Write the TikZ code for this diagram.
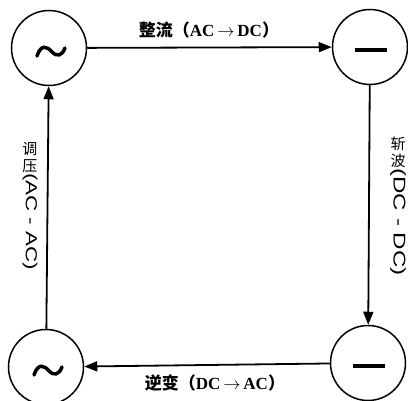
\documentclass[tikz,border=0pt]{standalone}
\usepackage{fontspec}
\setmainfont{Liberation Serif}
\newfontfamily\cjk{Noto Sans CJK SC}
\newfontfamily\lsans{Liberation Sans}
\usetikzlibrary{arrows.meta}
\begin{document}
\begin{tikzpicture}[x=1pt,y=-1pt,
  conv/.style={circle, draw, line width=1.5pt, minimum size=75pt, inner sep=0pt},
  symline/.style={line width=3.5pt, line cap=round},
  acsym/.style={conv, path picture={
     \begin{scope}[shift={(path picture bounding box.center)}]
       \draw[symline] (-12,8) .. controls (-8,-4) and (-2,-2) .. (3,4) .. controls (8,9) and (13,8) .. (16,0);
     \end{scope}}},
  dcsym/.style={conv, path picture={
     \begin{scope}[shift={(path picture bounding box.center)}]
       \draw[line width=4pt] (-15,3) -- (17,3);
     \end{scope}}},
  flow/.style={line width=1.8pt, -{Triangle[length=13pt,width=10pt]}},
  hlabel/.style={inner sep=0pt, font=\bfseries\fontsize{17}{17}\selectfont},
  vcjk/.style={inner sep=0pt, align=center, font=\cjk\fontsize{15}{17}\selectfont},
  vlat/.style={inner sep=0pt, rotate=-90, anchor=west, font=\lsans\fontsize{16}{16}\selectfont}
]
\useasboundingbox (0,0) rectangle (408,401);

\node[acsym] (tl) at (49,48) {};
\node[dcsym] (tr) at (370,47) {};
\node[dcsym] (br) at (368,363) {};
\node[acsym] (bl) at (46,367) {};

\draw[flow] (tl) -- (tr);
\draw[flow] (tr) -- (br);
\draw[flow] (br) -- (bl);
\draw[flow] (bl) -- (tl);

\node[hlabel] (toplab) at (209,30) {{\cjk 整流}{\cjk （}AC\,$\rightarrow$\,DC{\cjk ）}};
\node[hlabel] (botlab) at (215,383) {{\cjk 逆变}{\cjk （}DC\,$\rightarrow$\,AC{\cjk ）}};

\node[vcjk, anchor=north] (lv) at (30,142) {调\\压};
\node[vlat] (lvr) at (lv.south) {\scalebox{1.4}[1]{(AC - AC)}};

\node[vcjk, anchor=north] (rv) at (398,137) {斩\\波};
\node[vlat, font=\lsans\fontsize{17}{17}\selectfont] (rvr) at (rv.south) {\scalebox{1.42}[1]{(DC - DC)}};
\end{tikzpicture}
\end{document}
